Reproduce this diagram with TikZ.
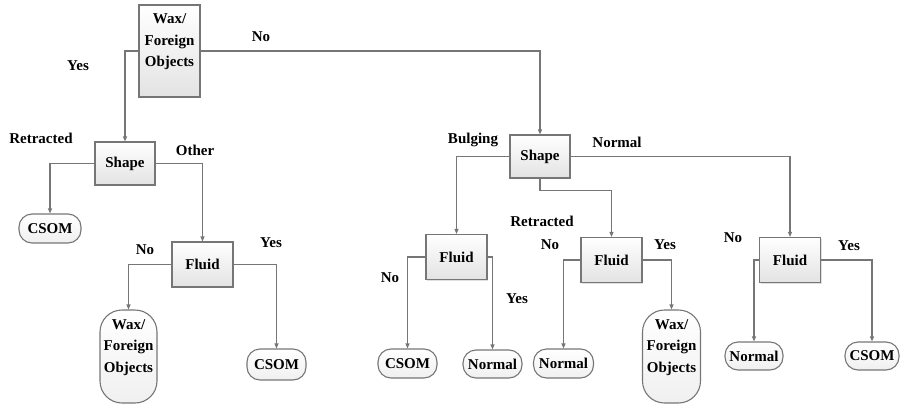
\documentclass[tikz,border=0pt]{standalone}
\usepackage{fontspec}
\setmainfont{Liberation Serif}
\usepackage{xcolor}
\usepackage{tikz}
\usetikzlibrary{arrows.meta,shadows}

\definecolor{linegray}{HTML}{767676}
\newcommand{\treefont}{\fontsize{15}{21.5}\selectfont\bfseries}
\tikzset{
  decision/.style={draw=linegray, line width=1.1pt, rectangle, top color=white, bottom color=gray!22,
    drop shadow={opacity=0.25, shadow xshift=1.2pt, shadow yshift=-1.2pt},
    inner sep=0pt, align=center, font=\treefont},
  leaf/.style={draw=linegray, line width=1.1pt, rectangle, rounded corners=13pt, top color=white, bottom color=gray!12,
    inner sep=0pt, align=center, font=\treefont},
  branch/.style={font=\treefont, inner sep=0pt},
  link/.style={draw=linegray, line width=1.1pt, -{Triangle[length=5pt,width=4pt]}}
}

\begin{document}
\begin{tikzpicture}[x=1pt, y=-1pt]
  \useasboundingbox (0,0) rectangle (901,404);

  % decision boxes
  \node[decision, minimum width=61pt, minimum height=92pt] (root) at (169.5,51) {Wax/\\Foreign\\Objects\\\mbox{}};
  \node[decision, minimum width=60pt, minimum height=43pt] (shapeL) at (125,163.5) {Shape};
  \node[decision, minimum width=60pt, minimum height=43pt] (shapeR) at (540,156.5) {Shape};
  \node[decision, minimum width=61pt, minimum height=45pt] (fluidA) at (202.5,264.5) {Fluid};
  \node[decision, minimum width=61pt, minimum height=45pt] (fluidB) at (456.5,257) {Fluid};
  \node[decision, minimum width=61pt, minimum height=45pt] (fluidC) at (611.5,260) {Fluid};
  \node[decision, minimum width=61pt, minimum height=45pt] (fluidD) at (790,260) {Fluid};

  % outcomes
  \node[leaf, minimum width=62pt, minimum height=29pt] (csomA) at (50,228.5) {CSOM};
  \node[leaf, minimum width=57pt, minimum height=93pt, rounded corners=22pt] (waxA) at (128.5,356.5) {Wax/\\Foreign\\Objects\\\mbox{}};
  \node[leaf, minimum width=59pt, minimum height=31pt] (csomB) at (276.5,364.5) {CSOM};
  \node[leaf, minimum width=59pt, minimum height=29pt] (csomC) at (407.5,363.5) {CSOM};
  \node[leaf, minimum width=59pt, minimum height=28pt] (normalA) at (492.5,364) {Normal};
  \node[leaf, minimum width=60pt, minimum height=29pt] (normalB) at (563.5,363.5) {Normal};
  \node[leaf, minimum width=58pt, minimum height=93pt, rounded corners=22pt] (waxB) at (671.5,356.5) {Wax/\\Foreign\\Objects\\\mbox{}};
  \node[leaf, minimum width=58pt, minimum height=28pt] (normalC) at (754,356) {Normal};
  \node[leaf, minimum width=54pt, minimum height=28pt] (csomD) at (872,356) {CSOM};

  % connectors
  \draw[link] (root.west) -| (shapeL.north);
  \draw[link] (root.east) -| (shapeR.north);
  \draw[link] (shapeL.west) -| (csomA.north);
  \draw[link] (shapeL.east) -| (fluidA.north);
  \draw[link] (fluidA.west) -| (waxA.north);
  \draw[link] (fluidA.east) -| (csomB.north);
  \draw[link] (shapeR.west) -| (fluidB.north);
  \draw[link] (shapeR.south) -- ++(0,12) -| (fluidC.north);
  \draw[link] (shapeR.east) -| (fluidD.north);
  \draw[link] (fluidB.west) -| (csomC.north);
  \draw[link] (fluidB.east) -| (normalA.north);
  \draw[link] (fluidC.west) -| (normalB.north);
  \draw[link] (fluidC.east) -| (waxB.north);
  \draw[link] (fluidD.west) -| (normalC.north);
  \draw[link] (fluidD.east) -| (csomD.north);

  % branch labels
  \node[branch] (rootYes) at (78,66) {Yes};
  \node[branch] (rootNo) at (261,37) {No};
  \node[branch] (shapeLret) at (41,138) {Retracted};
  \node[branch] (shapeLoth) at (195,150) {Other};
  \node[branch] (fluidAno) at (145,250) {No};
  \node[branch] (fluidAyes) at (271,243) {Yes};
  \node[branch] (shapeRbul) at (473,140) {Bulging};
  \node[branch] (shapeRnor) at (617,142) {Normal};
  \node[branch] (shapeRret) at (542,221) {Retracted};
  \node[branch] (fluidBno) at (390,278) {No};
  \node[branch] (fluidByes) at (517,299) {Yes};
  \node[branch] (fluidCno) at (550,245) {No};
  \node[branch] (fluidCyes) at (665,245) {Yes};
  \node[branch] (fluidDno) at (733,238) {No};
  \node[branch] (fluidDyes) at (849,246) {Yes};
\end{tikzpicture}
\end{document}
